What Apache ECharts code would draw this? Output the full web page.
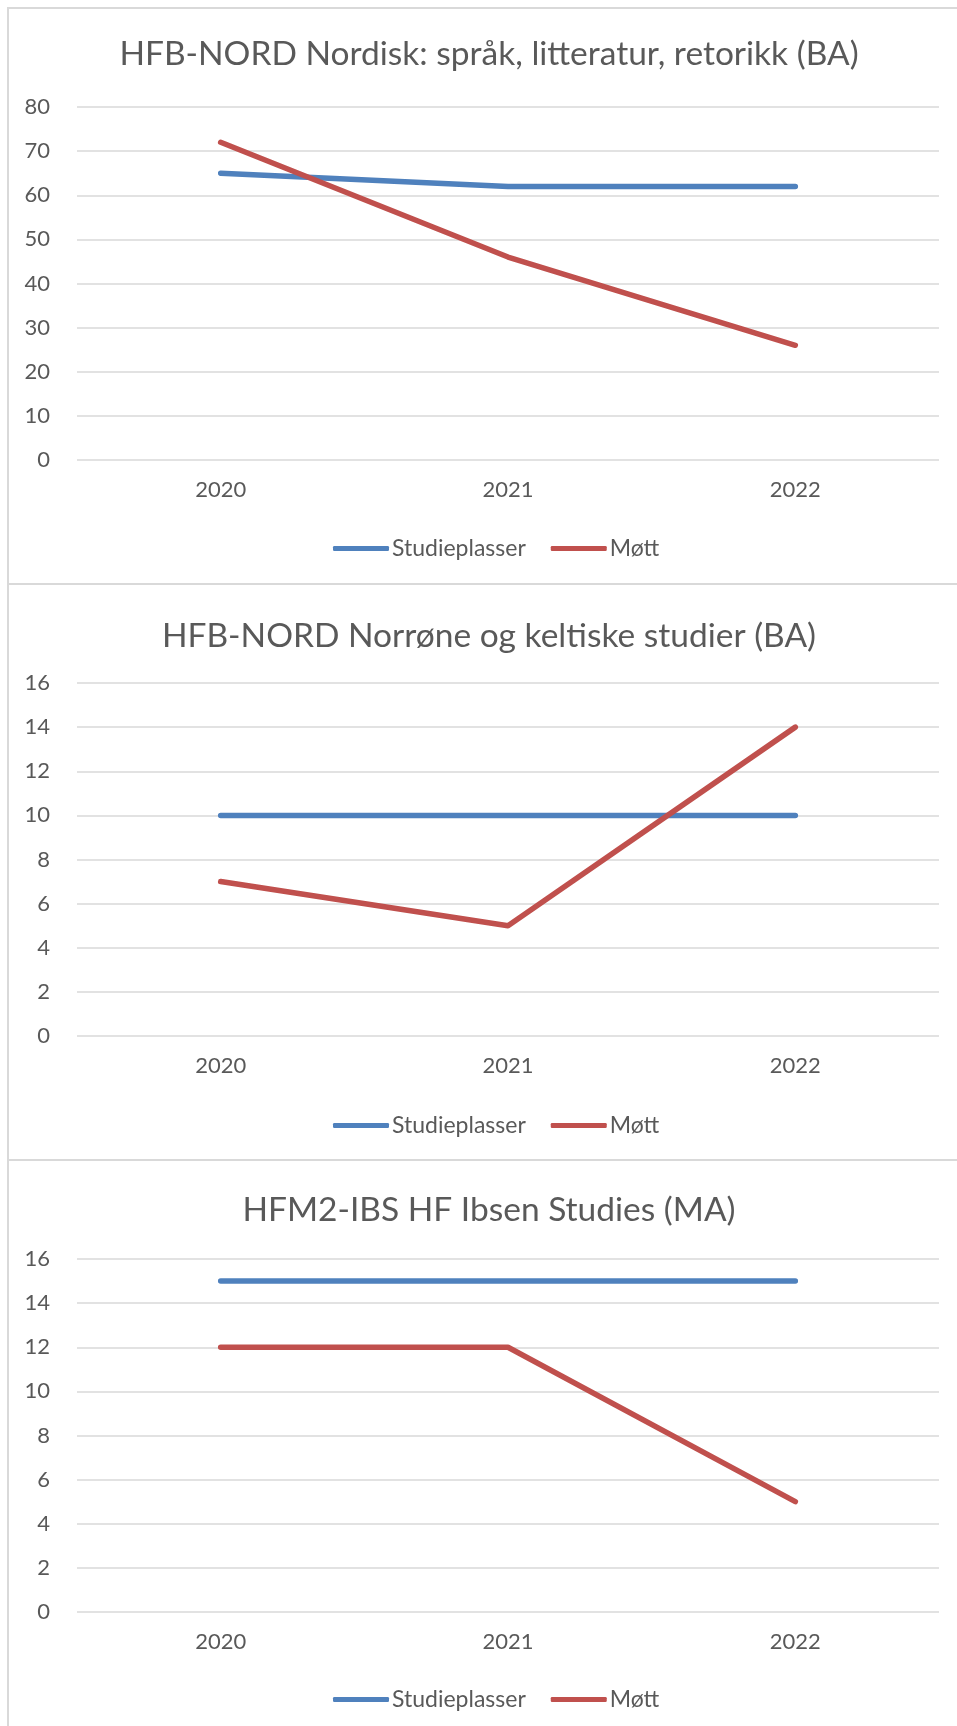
<!DOCTYPE html>
<html>
<head>
<meta charset="utf-8">
<script src="https://cdn.jsdelivr.net/npm/echarts@6/dist/echarts.min.js"></script>
<style>
  html, body { margin: 0; padding: 0; background: #fff; }
  #chart { width: 957px; height: 1726px; }
</style>
</head>
<body>
<div id="chart"></div>
<script>
const years = ['2020', '2021', '2022'];
const seriesNames = ['Studieplasser', 'Møtt'];

const titles = [
  'HFB-NORD Nordisk: språk, litteratur, retorikk (BA)',
  'HFB-NORD Norrøne og keltiske studier (BA)',
  'HFM2-IBS HF Ibsen Studies (MA)'
];

// each panel: [Studieplasser, Møtt]
const nordiskPlasser = [65, 62, 62];
const nordiskMott = [72, 46, 26];
const norronePlasser = [10, 10, 10];
const norroneMott = [7, 5, 14];
const ibsenPlasser = [15, 15, 15];
const ibsenMott = [12, 12, 5];

const yMax = [80, 16, 16];
const yStep = [10, 2, 2];

const colors = ['#4f81bd', '#c0504d'];
const textColor = '#595959';
const lineGray = '#d9d9d9';
const font = "Lato, 'DejaVu Sans Condensed', sans-serif";

// layout per panel (pixels)
const gridTop = [107, 683, 1259];
const gridBottomY = [460, 1036, 1612];
const titleY = [52, 634, 1208];
const legendY = [544, 1121, 1695];

const panelData = [
  [nordiskPlasser, nordiskMott],
  [norronePlasser, norroneMott],
  [ibsenPlasser, ibsenMott]
];

const chart = echarts.init(document.getElementById('chart'));

const option = {
  backgroundColor: '#fff',
  animation: false,
  color: colors,
  textStyle: { fontFamily: font },
  title: [],
  legend: [],
  grid: [],
  xAxis: [],
  yAxis: [],
  series: [],
  graphic: [
    { type: 'line', shape: { x1: 8, y1: 7, x2: 8, y2: 1726 }, style: { stroke: lineGray, lineWidth: 2 } },
    { type: 'line', shape: { x1: 7, y1: 8, x2: 957, y2: 8 }, style: { stroke: lineGray, lineWidth: 2 } },
    { type: 'line', shape: { x1: 7, y1: 584, x2: 957, y2: 584 }, style: { stroke: lineGray, lineWidth: 2 } },
    { type: 'line', shape: { x1: 7, y1: 1160, x2: 957, y2: 1160 }, style: { stroke: lineGray, lineWidth: 2 } }
  ]
};

panelData.forEach((pair, i) => {
  option.title.push({
    text: titles[i],
    left: 484,
    textAlign: 'center',
    top: titleY[i] - 20,
    textStyle: { color: textColor, fontSize: 33.5, fontWeight: 'normal', fontFamily: font }
  });
  option.legend.push({
    data: seriesNames.map(n => ({ name: n })),
    top: legendY[i] - 12,
    left: 328,
    icon: 'roundRect',
    itemWidth: 56,
    itemHeight: 5,
    itemGap: 25,
    textStyle: { color: textColor, fontSize: 23, fontFamily: font, padding: [0, 0, 0, -2] }
  });
  option.grid.push({
    left: 77,
    right: 18,
    top: gridTop[i],
    height: gridBottomY[i] - gridTop[i],
    containLabel: false
  });
  option.xAxis.push({
    type: 'category',
    gridIndex: i,
    data: years,
    boundaryGap: true,
    axisLine: { show: false },
    axisTick: { show: false },
    axisLabel: { color: textColor, fontSize: 22, margin: 19, fontFamily: font }
  });
  option.yAxis.push({
    type: 'value',
    gridIndex: i,
    min: 0,
    max: yMax[i],
    interval: yStep[i],
    axisLine: { show: false },
    axisTick: { show: false },
    axisLabel: { color: textColor, fontSize: 22, margin: 27, fontFamily: font },
    splitLine: { lineStyle: { color: lineGray, width: 1.5 } }
  });
  pair.forEach((vals, k) => {
    option.series.push({
      name: seriesNames[k],
      type: 'line',
      xAxisIndex: i,
      yAxisIndex: i,
      data: vals,
      symbol: 'none',
      smooth: false,
      lineStyle: { width: 5.5, color: colors[k], cap: 'round', join: 'round' },
      itemStyle: { color: colors[k] }
    });
  });
});

chart.setOption(option);
</script>
</body>
</html>
